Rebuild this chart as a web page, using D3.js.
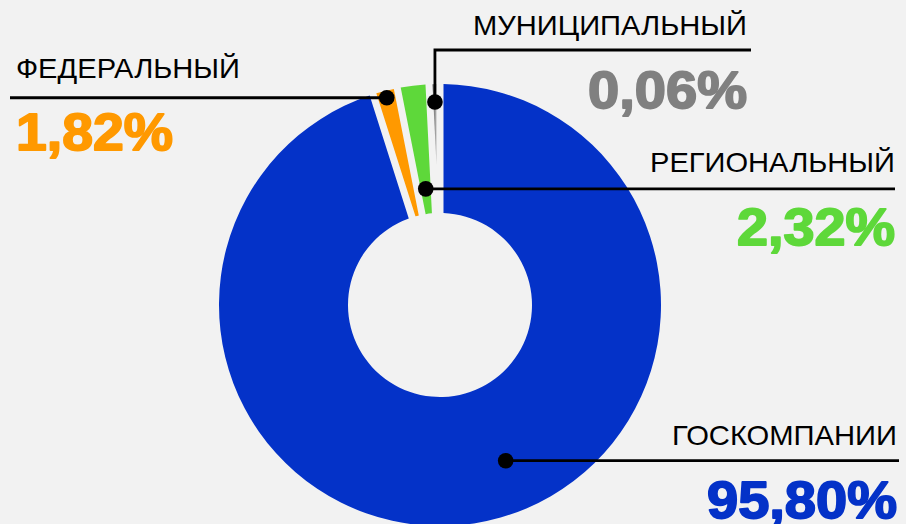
<!DOCTYPE html>
<html>
<head>
<meta charset="utf-8">
<script src="https://cdn.jsdelivr.net/npm/d3@7"></script>
<style>
  html, body { margin: 0; padding: 0; background: #f2f2f2; }
  svg { display: block; }
  text { font-family: "Liberation Sans", Arial, sans-serif; }
</style>
</head>
<body>
<div id="chart"></div>
<script>
// data
var categories = ["ГОСКОМПАНИИ", "ФЕДЕРАЛЬНЫЙ", "РЕГИОНАЛЬНЫЙ", "МУНИЦИПАЛЬНЫЙ"];
var shares = [95.80, 1.82, 2.32, 0.06];
var valueLabels = ["95,80%", "1,82%", "2,32%", "0,06%"];
var colors = ["#0432c8", "#ff9900", "#5ed83a", "#808080"];

var svgWidth = 906;
var svgHeight = 524;

var cx = 440, cy = 305;
var outerR = 221, innerR = 92;
var minShare = 0.8;   // smallest slice still drawn visibly

// label placement (layout only)
var labelLayout = [
  { anchor: "end",   x: 897, nameY: 445, valueY: 518, valueLen: 190, nameLen: 225, lineTo: 899, dotR: 169, dotT: 0.459 },
  { anchor: "start", x: 16,  nameY: 78,  valueY: 150, valueLen: 157, nameLen: 224, lineTo: 10,  dotR: 214, dotT: 0.5 },
  { anchor: "end",   x: 895, nameY: 172, valueY: 245, valueLen: 158, nameLen: 245, lineTo: 895, dotR: 117, dotT: 0.5 },
  { anchor: "end",   x: 747, nameY: 35,  valueY: 108, valueLen: 159, nameLen: 274, lineTo: 751, dotR: 203, dotT: 0.5, elbowY: 50 }
];

var svg = d3.select("#chart")
  .append("svg")
  .attr("width", svgWidth)
  .attr("height", svgHeight);

svg.append("rect")
  .attr("width", svgWidth)
  .attr("height", svgHeight)
  .attr("fill", "#f2f2f2");

// gradient for the tiny grey slice
var grad = svg.append("defs").append("linearGradient")
  .attr("id", "greyGrad")
  .attr("x1", "0%").attr("x2", "100%")
  .attr("y1", "0%").attr("y2", "0%");
grad.append("stop").attr("offset", "0%").attr("stop-color", "#5a5a5a");
grad.append("stop").attr("offset", "100%").attr("stop-color", "#b8b8b8");

var chartGroup = svg.append("g")
  .attr("transform", "translate(" + cx + "," + cy + ")");

var data = categories.map(function (c, i) {
  return { name: c, value: shares[i], label: valueLabels[i], color: colors[i], i: i };
});

var pie = d3.pie()
  .sort(null)
  .value(function (d) { return Math.max(d.value, minShare); });

var arcs = pie(data);

var padRadius = 100;
var padAngle = 0.07;
var gap = padRadius * padAngle;

var arc = d3.arc()
  .outerRadius(outerR)
  .padRadius(padRadius)
  .padAngle(padAngle)
  .innerRadius(function (d) {
    // narrow slices close up before reaching the hole
    var span = d.endAngle - d.startAngle;
    return Math.max(innerR, Math.min(outerR - 4, gap / span));
  });

chartGroup.selectAll("path.slice")
  .data(arcs)
  .enter()
  .append("path")
  .attr("class", "slice")
  .attr("d", arc)
  .attr("fill", function (d) { return d.data.i === 3 ? "url(#greyGrad)" : d.data.color; });

// leader lines and dots
arcs.forEach(function (d) {
  var L = labelLayout[d.data.i];
  var a = d.startAngle + (d.endAngle - d.startAngle) * L.dotT;
  var p = d3.pointRadial(a, L.dotR);
  var px = cx + p[0], py = cy + p[1];

  var pts = L.elbowY !== undefined
    ? [[px, py], [px, L.elbowY], [L.lineTo, L.elbowY]]
    : [[px, py], [L.lineTo, py]];

  svg.append("path")
    .attr("d", d3.line()(pts))
    .attr("fill", "none")
    .attr("stroke", "#000")
    .attr("stroke-width", 2.8);

  svg.append("circle")
    .attr("cx", px)
    .attr("cy", py)
    .attr("r", 7.8)
    .attr("fill", "#000");

  svg.append("text")
    .attr("x", L.x)
    .attr("y", L.nameY)
    .attr("text-anchor", L.anchor)
    .attr("font-size", 28.5)
    .attr("textLength", L.nameLen)
    .attr("lengthAdjust", "spacingAndGlyphs")
    .attr("fill", "#000")
    .text(d.data.name);

  svg.append("text")
    .attr("x", L.x)
    .attr("y", L.valueY)
    .attr("text-anchor", L.anchor)
    .attr("font-size", 51)
    .attr("font-weight", "bold")
    .attr("textLength", L.valueLen)
    .attr("lengthAdjust", "spacingAndGlyphs")
    .attr("fill", d.data.color)
    .attr("stroke", d.data.color)
    .attr("stroke-width", 1.8)
    .attr("stroke-linejoin", "round")
    .text(d.data.label);
});
</script>
</body>
</html>
